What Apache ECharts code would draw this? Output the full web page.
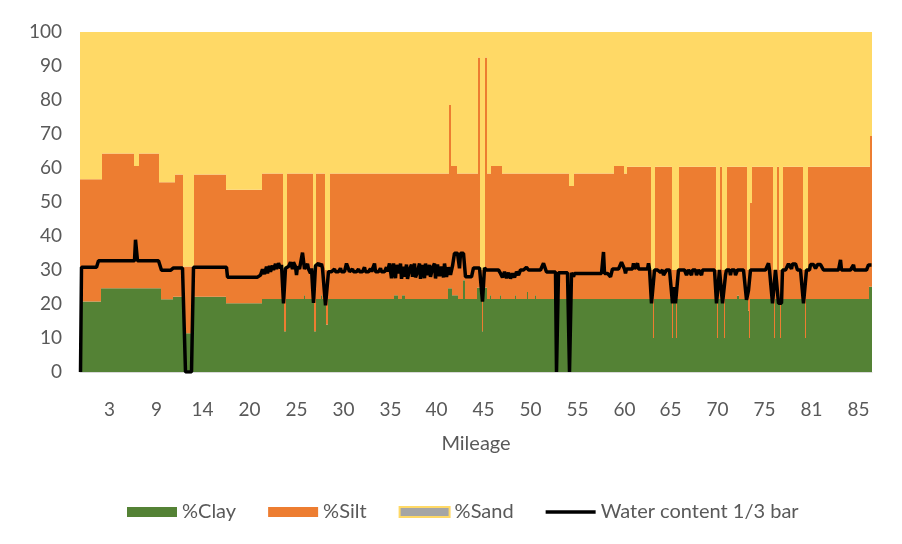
<!DOCTYPE html>
<html>
<head>
<meta charset="utf-8">
<script src="https://cdn.jsdelivr.net/npm/echarts@6/dist/echarts.min.js"></script>
<style>
  html, body { margin: 0; padding: 0; background: #ffffff; }
  #chart { width: 902px; height: 544px; }
</style>
</head>
<body>
<div id="chart"></div>
<script>
// Number of soil samples along the route (one column per sample)
const sampleCount = 792;

// Step runs: [first sample index, value]; a value holds until the next run starts
const claySteps = [
  [0, 20.7], [21, 24.6], [81, 21.4], [93, 22.1], [104, 11.4], [114, 22.1], [146, 20.2], [182, 21.5],
  [204, 12], [206, 21.5], [224, 22.6], [225, 21.5], [234, 12], [236, 21.5], [241, 22.6], [242, 21.5],
  [246, 14], [248, 21.5], [314, 22.6], [318, 21.5], [322, 22.6], [325, 21.5],
  [368, 24.6], [372, 22.6], [378, 21.5], [383, 27], [385, 21.5],
  [397, 24.8], [402, 12], [403, 24.8], [407, 21.5],
  [410, 22.6], [411, 21.5], [420, 22.6], [421, 21.5], [435, 22.6], [436, 21.5],
  [447, 23.5], [448, 21.5], [455, 22.6], [456, 21.5],
  [573, 10], [574, 21.5], [592, 10], [593, 21.5], [596, 10], [597, 21.5],
  [637, 10], [638, 21.5], [644, 10], [645, 21.5], [657, 22.4], [659, 21.5],
  [668, 18], [669, 10], [670, 21.5], [694, 10], [695, 21.5], [700, 10], [701, 21.5],
  [725, 10], [726, 21.5], [789, 25.1]
];

const sandSteps = [
  [0, 43.3], [22, 35.7], [54, 39.4], [59, 35.7], [79, 44.2], [95, 41.9], [103, 69], [114, 41.9],
  [146, 46.4], [182, 41.6],
  [203, 70], [207, 41.6], [233, 70], [236, 41.6], [245, 70], [250, 41.6],
  [369, 21.5], [371, 39.4], [377, 41.6],
  [398, 7.5], [400, 70], [405, 7.5], [407, 41.6], [411, 39.4], [422, 41.6],
  [489, 45.3], [494, 41.6], [534, 39.4], [544, 41.6], [547, 39.6],
  [571, 70], [575, 39.6], [592, 70], [599, 39.6], [636, 70], [640, 39.6],
  [642, 70], [647, 39.6], [667, 70], [670, 50.3], [672, 39.6],
  [693, 70], [697, 39.6], [699, 70], [703, 39.6], [723, 70], [728, 39.6],
  [790, 30.6]
];

const waterSteps = [
  [0, 0], [1, 30.8], [18, 32.7], [55, 38.9], [57, 32.7], [81, 29.9], [93, 30.6], [105, 0], [113, 30.8],
  [147, 27.9], [180, 28.5],
  [182, 30.2], [184, 28.8], [186, 31.0], [187, 29.0], [189, 31.2], [190, 29.5], [192, 31.3], [193, 30.0],
  [195, 31.8], [196, 30.3], [198, 32.0], [200, 30.5], [201, 31.5],
  [203, 20.2], [205, 30.5], [206, 31.0], [210, 32.3], [212, 30.3], [213, 32.3], [215, 31.0], [216, 28.5],
  [217, 31.0], [219, 30.3], [222, 35.1], [224, 30.3], [227, 31.8], [228, 30.3], [230, 29.0], [231, 30.5],
  [233, 20.3], [235, 31.2], [238, 32.0], [239, 31.2], [241, 31.8], [242, 30.5], [245, 19.6], [248, 29.5],
  [254, 30.3], [255, 29.5], [260, 30.5], [261, 29.5], [266, 31.9], [269, 29.5], [272, 30.3], [273, 29.5],
  [278, 30.3], [279, 29.5], [284, 30.8], [285, 29.5], [290, 30.4], [291, 29.5], [294, 31.9], [295, 29.5],
  [300, 30.5], [301, 29.5], [306, 30.8], [307, 29.5],
  [309, 31.9], [311, 27.6], [313, 31.9], [315, 27.6], [316, 31.5], [318, 29.0], [320, 31.9], [321, 27.4],
  [323, 31.0], [324, 28.0], [326, 31.6], [327, 27.4], [329, 30.2], [331, 31.6], [332, 28.0], [334, 31.9],
  [335, 27.8], [337, 29.5], [339, 31.9], [340, 27.4], [342, 31.5], [344, 27.6], [345, 31.9], [347, 28.5],
  [349, 31.5], [350, 28.0], [352, 30.5], [354, 31.9], [355, 27.5], [357, 31.6], [359, 28.2], [361, 31.0],
  [363, 27.8], [364, 31.9], [366, 28.0], [368, 30.8], [370, 28.6], [372, 31.2],
  [374, 34.9], [379, 30.5], [380, 34.9], [385, 28.0], [393, 30.6], [402, 20.7], [404, 30.6], [406, 30.0],
  [420, 29.0], [422, 27.8], [424, 29.5], [426, 27.6], [428, 29.2], [430, 27.5], [432, 29.0], [434, 27.8],
  [436, 29.5], [438, 28.5], [440, 30.0], [446, 30.8], [448, 30.0], [463, 32.0], [466, 29.4],
  [476, 0], [478, 29.2], [489, 0], [491, 29.2], [493, 28.0], [494, 29.0], [523, 35.3], [524, 29.0],
  [530, 28.0], [532, 30.3], [541, 32.3], [544, 30.3], [545, 29.0], [546, 30.3], [553, 32.0], [554, 30.3],
  [557, 32.0], [558, 30.3], [568, 32.0], [569, 30.3], [571, 20.2], [574, 30.0], [580, 29.3], [582, 30.0],
  [583, 28.5], [586, 30.0], [592, 20.2], [594, 25.0], [595, 20.2], [598, 30.0],
  [606, 28.5], [608, 30.0], [611, 28.5], [612, 30.0], [616, 28.5], [618, 30.0], [621, 28.5], [622, 30.0],
  [636, 20.2], [639, 30.0], [642, 20.2], [645, 28.5], [646, 30.0], [650, 28.5], [651, 30.0], [655, 28.5],
  [657, 30.0], [666, 21.2], [668, 24.0], [669, 27.0], [670, 30.0], [688, 32.0], [689, 30.0],
  [692, 20.2], [695, 30.0], [698, 20.2], [702, 30.0], [708, 31.8], [711, 30.3], [712, 31.8], [717, 30.0],
  [723, 20.2], [726, 30.0], [730, 31.6], [735, 30.5], [737, 31.6], [743, 30.0], [760, 33.0], [761, 30.0],
  [773, 31.5], [774, 30.0], [788, 31.5]
];

// Mileage labels and the sample index each one sits under
const tickIndex = [29, 76, 122, 169, 216, 263, 310, 356, 403, 450, 497, 544, 590, 637, 684, 731, 778];
const tickLabels = ['3', '9', '14', '20', '25', '30', '35', '40', '45', '50', '55', '60', '65', '70', '75', '81', '85'];

// Expand step runs into one value per sample
function expandSteps(steps) {
  const runs = steps.slice().sort((a, b) => a[0] - b[0]);
  const out = [];
  let k = 0;
  for (let i = 0; i < sampleCount; i++) {
    while (k + 1 < runs.length && runs[k + 1][0] <= i) k++;
    out.push(runs[k][1]);
  }
  return out;
}

const clay = expandSteps(claySteps);
const sand = expandSteps(sandSteps);
const water = expandSteps(waterSteps);
// Texture fractions add up to 100 %, silt is what clay and sand leave
const silt = clay.map((c, i) => +(100 - c - sand[i]).toFixed(1));

const categories = [];
for (let i = 0; i < sampleCount; i++) categories.push(String(i));
const labelAt = {};
tickIndex.forEach((idx, j) => { labelAt[idx] = tickLabels[j]; });

const FONT = 'Lato, "Noto Sans", sans-serif';
const TEXT = '#595959';

const chart = echarts.init(document.getElementById('chart'), null, { renderer: 'canvas' });
chart.setOption({
  backgroundColor: '#ffffff',
  animation: false,
  grid: { left: 80, top: 32, width: 792, height: 340, containLabel: false },
  legend: {
    bottom: 17,
    left: 122,
    itemWidth: 50,
    itemHeight: 10,
    itemGap: 32,
    symbolKeepAspect: true,
    textStyle: { color: TEXT, fontSize: 20, fontFamily: FONT },
    data: [
      { name: '%Clay', icon: 'rect' },
      { name: '%Silt', icon: 'rect' },
      { name: '%Sand', icon: 'rect', itemStyle: { color: '#A5A5A5', borderColor: '#FFD966', borderWidth: 2 } },
      { name: 'Water content 1/3 bar', icon: 'path://M0,0H50V3.5H0Z', itemStyle: { color: '#000000' } }
    ]
  },
  xAxis: {
    type: 'category',
    data: categories,
    boundaryGap: true,
    name: 'Mileage',
    nameLocation: 'middle',
    nameGap: 62,
    nameTextStyle: { color: TEXT, fontSize: 20, fontFamily: FONT },
    axisLine: { show: true, lineStyle: { color: '#D9D9D9', width: 1 } },
    axisTick: { show: false },
    axisLabel: {
      interval: (i) => labelAt[i] !== undefined,
      formatter: (v, i) => labelAt[i] || '',
      color: TEXT, fontSize: 19, fontFamily: FONT, margin: 28
    },
    splitLine: { show: false }
  },
  yAxis: {
    type: 'value',
    min: 0, max: 100, interval: 10,
    axisLine: { show: false },
    axisTick: { show: false },
    axisLabel: { color: TEXT, fontSize: 19, fontFamily: FONT, margin: 18 },
    splitLine: { show: false }
  },
  series: [
    { name: '%Clay', type: 'bar', stack: 'texture', data: clay, barWidth: '100%', barCategoryGap: 0,
      itemStyle: { color: '#548235' }, emphasis: { disabled: true } },
    { name: '%Silt', type: 'bar', stack: 'texture', data: silt, barWidth: '100%', barCategoryGap: 0,
      itemStyle: { color: '#ED7D31' }, emphasis: { disabled: true } },
    { name: '%Sand', type: 'bar', stack: 'texture', data: sand, barWidth: '100%', barCategoryGap: 0,
      itemStyle: { color: '#FFD966' }, emphasis: { disabled: true } },
    { name: 'Water content 1/3 bar', type: 'line', data: water, symbol: 'none', showSymbol: false,
      lineStyle: { color: '#000000', width: 3.5 }, itemStyle: { color: '#000000' }, z: 5,
      emphasis: { disabled: true } }
  ]
});
</script>
</body>
</html>
